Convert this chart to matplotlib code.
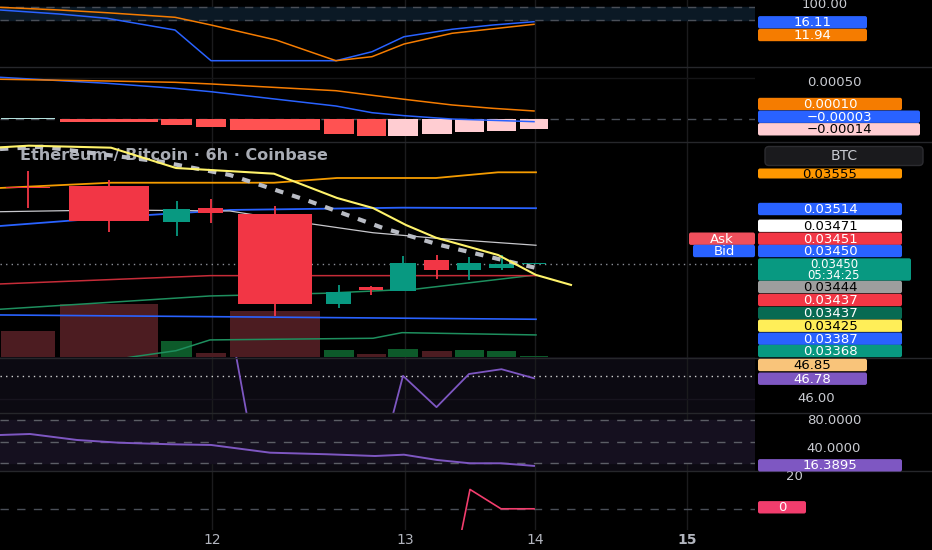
import numpy as np
import matplotlib
matplotlib.use("Agg")
import matplotlib.pyplot as plt
from matplotlib.patches import FancyBboxPatch

plt.rcParams['font.family'] = ['DejaVu Sans']

# ---- datos ----
day_ticks = [212, 405, 535, 687]
day_labels = ['12', '13', '14', '15']

# velas 6h (posicion en el eje de tiempo y ancho de la vela)
t = [28, 108.5, 176.5, 210.5, 275, 338.5, 371, 403, 436.5, 469, 501.5, 534]
span = [56, 100, 33, 32, 92, 32, 31, 32, 32, 31, 31, 30]
o = [0.03538, 0.03539, 0.03498, 0.03514, 0.03507, 0.03405, 0.03424, 0.03419, 0.03455, 0.03443, 0.03446, 0.03450]
h = [0.03556, 0.03546, 0.03522, 0.03524, 0.03517, 0.03426, 0.03425, 0.03459, 0.03461, 0.03458, 0.03461, 0.03450]
l = [0.03514, 0.03487, 0.03482, 0.03497, 0.03391, 0.03400, 0.03415, 0.03419, 0.03433, 0.03432, 0.03444, 0.03450]
c = [0.03537, 0.03499, 0.03513, 0.03509, 0.03405, 0.03418, 0.03421, 0.03452, 0.03443, 0.03451, 0.03450, 0.03450]
vol = [257, 527, 160, 40, 460, 74, 27, 84, 60, 74, 60, 7]
last_price = 0.03450

# medias / bandas del panel principal
ema_t = [0, 29, 111, 176, 274, 337, 373, 406, 436, 498, 536, 571]
ema = [0.035835, 0.035854, 0.035831, 0.035599, 0.035534, 0.035257, 0.035142, 0.034948, 0.034803, 0.034606, 0.034378, 0.034264]
dash_t = [0, 42, 161, 230, 306, 383, 440, 494, 536]
dash = [0.035816, 0.035842, 0.035671, 0.035519, 0.035234, 0.034914, 0.034720, 0.034572, 0.034458]
orange_t = [0, 111, 274, 337, 436, 498, 536]
orange = [0.035371, 0.035431, 0.035431, 0.035485, 0.035485, 0.035550, 0.035550]
white_t = [0, 111, 230, 312, 373, 436, 536]
white = [0.035100, 0.035120, 0.035108, 0.034960, 0.034860, 0.034797, 0.034717]
blue_t = [0, 69, 149, 230, 402, 536]
blue = [0.034937, 0.034997, 0.035063, 0.035120, 0.035146, 0.035140]
red_t = [0, 210, 536]
red = [0.034275, 0.034370, 0.034370]
green_t = [0, 210, 325, 417, 536]
green = [0.033986, 0.034138, 0.034169, 0.034218, 0.034378]
blue2_t = [0, 536]
blue2 = [0.033921, 0.033872]
green2_t = [100, 134, 176, 210, 373, 402, 536]
green2 = [0.033384, 0.033445, 0.033513, 0.033636, 0.033655, 0.033719, 0.033693]

# panel DMI
di_plus_t = [0, 59, 107, 175, 211, 336, 372, 404, 452, 493, 534]
di_plus = [85.1, 79.1, 72.7, 55.2, 9.4, 9.4, 22.8, 45.2, 56.3, 62.7, 67.6]
di_minus_t = [0, 59, 107, 175, 211, 276, 336, 372, 404, 452, 534]
di_minus = [89.1, 85.1, 81.0, 74.2, 62.7, 40.3, 9.4, 15.4, 34.3, 50.3, 63.7]

# panel MACD
macd_t = [0, 107, 175, 211, 336, 372, 404, 452, 534]
macd = [0.000509, 0.000436, 0.000375, 0.000334, 0.000160, 0.000079, 0.000043, 0.000002, -0.00003]
signal_t = [0, 107, 175, 211, 336, 404, 452, 493, 534]
signal = [0.000485, 0.000464, 0.000448, 0.000428, 0.000346, 0.000242, 0.000173, 0.000132, 0.000100]
hist = [0.00002, -0.00003, -0.00007, -0.00009, -0.00013, -0.00018, -0.00020, -0.00020, -0.00018, -0.00016, -0.00014, -0.00012]
hist_col = ['#b2dfdb'] + ['#ff5252'] * 6 + ['#ffcdd2'] * 5

# RSI
rsi = [55.0, 54.0, 53.5, 52.9, 39.6, 38.0, 42.25, 46.87, 45.69, 46.94, 47.12, 46.78]
rsi_ma = 46.85

# estocastico
stoch_t = [0, 30, 77, 119, 172, 211, 270, 327, 375, 404, 437, 470, 501, 534]
stoch = [59.2, 60.6, 52.3, 48.5, 46.3, 45.4, 34.7, 32.5, 30.1, 31.9, 24.6, 20.0, 20.0, 16.39]

# oscilador inferior
osc_t = [437, 470, 501, 534]
osc = [-94, 12.6, 0.0, 0.0]

W, H = 932, 550
fig = plt.figure(figsize=(9.32, 5.5), dpi=100, facecolor='black')
grid = '#1b1b1d'


def pane(top, bottom, bg='black', z=0):
    ax = fig.add_axes([0, 1 - bottom / H, 755 / W, (bottom - top) / H], zorder=z)
    ax.set_facecolor(bg)
    ax.set_xlim(0, 755)
    ax.set_xticks([])
    ax.set_yticks([])
    for s in ax.spines.values():
        s.set_visible(False)
    for x in day_ticks:
        ax.axvline(x, color=grid, lw=1, zorder=0)
    return ax


# ---- DMI ----
ax1 = pane(0, 67)
ax1.set_ylim(0, 100)
ax1.axhspan(70, 90, color='#0b1925', zorder=0.5)
for lv in (70, 90):
    ax1.axhline(lv, color='#4a4f58', lw=1, ls=(0, (6, 5)), zorder=1)
ax1.plot(di_plus_t, di_plus, color='#2962ff', lw=1.1)
ax1.plot(di_minus_t, di_minus, color='#f57c00', lw=1.1)

# ---- MACD ----
ax2 = pane(67, 142)
ax2.set_ylim(-0.000277, 0.000634)
ax2.axhline(0.0005, color='#151517', lw=1, zorder=0)
ax2.axhline(0, color='#4a4f58', lw=1, ls=(0, (6, 5)), zorder=0.5)
ax2.bar(t, hist, width=[s - 2 for s in span], color=hist_col, zorder=1)
ax2.plot(macd_t, macd, color='#2962ff', lw=1.1, zorder=2)
ax2.plot(signal_t, signal, color='#f57c00', lw=1.1, zorder=2)

# ---- precio + volumen ----
axv = pane(142, 357)
axv.set_ylim(0, 2150)
vcol = ['#4c1c21' if cc < oo else '#0d5a2a' for oo, cc in zip(o, c)]
axv.bar(t, vol, width=[s - 2 for s in span], color=vcol, zorder=1)

ax = fig.add_axes(axv.get_position(), zorder=1)
ax.set_facecolor('none')
ax.set_xlim(0, 755)
ax.set_ylim(0.033441, 0.035896)
ax.set_xticks([])
ax.set_yticks([])
for s in ax.spines.values():
    s.set_visible(False)

ax.text(20 / W, 1 - 155.7 / H, 'Ethereum / Bitcoin · 6h · Coinbase', transform=fig.transFigure,
        color='#a9acb4', fontsize=11.5, fontweight='bold', va='center', zorder=0.5)

ax.plot(green2_t, green2, color='#1e8f5e', lw=1.1, zorder=2)
ax.plot(blue2_t, blue2, color='#2962ff', lw=1.2, zorder=2)
ax.plot(green_t, green, color='#1e8f5e', lw=1.1, zorder=2)
ax.plot(red_t, red, color='#c62c38', lw=1.1, zorder=2)
ax.plot(blue_t, blue, color='#2962ff', lw=1.3, zorder=2)
ax.plot(white_t, white, color='#c8c8cc', lw=0.9, zorder=2)
ax.plot(orange_t, orange, color='#f59c00', lw=1.3, zorder=2)
ax.axhline(last_price, color='#8a8d96', lw=1, ls=(0, (1, 3)), zorder=2)

up, down = '#089981', '#f23645'
for i in range(len(t)):
    col = up if c[i] >= o[i] else down
    ax.vlines(t[i], l[i], h[i], color=col, lw=1.3, zorder=3)
    body = max(abs(c[i] - o[i]), 0.000017)
    ax.bar(t[i], body, bottom=min(o[i], c[i]), width=span[i] * 0.8, color=col, zorder=3)

ax.plot(dash_t, dash, color='#b9bcc4', lw=3, ls=(0, (2, 2.2)), zorder=4)
ax.plot(ema_t, ema, color='#fff36b', lw=1.5, zorder=4)

# ---- RSI ----
ax4 = pane(357, 413, bg='#0c0a12')
ax4.set_ylim(45.47, 47.58)
ax4.axhline(46.0, color='#17141e', lw=1, zorder=0.5)
ax4.axhline(rsi_ma, color='#d0d0d0', lw=1, ls=(0, (1, 3)), zorder=1)
ax4.plot(t, rsi, color='#7e57c2', lw=1.3, zorder=2)

# ---- estocastico ----
ax5 = pane(413, 471, bg='#0c0a12')
ax5.set_ylim(9.3, 89.7)
ax5.axhspan(20, 80, color='#15101f', zorder=0.5)
for lv in (20, 50, 80):
    ax5.axhline(lv, color='#5c5e66', lw=1, ls=(0, (6, 6)), zorder=1)
ax5.plot(stoch_t, stoch, color='#7e57c2', lw=1.4, zorder=2)

# ---- oscilador ----
ax6 = pane(471, 530)
ax6.set_ylim(-13.8, 24.6)
ax6.axhline(0, color='#4a4f58', lw=1, ls=(0, (6, 6)), zorder=1)
ax6.plot(osc_t, osc, color='#f23d6d', lw=1.2, zorder=2)

# ---- escala derecha y etiquetas ----
ov = fig.add_axes([0, 0, 1, 1], zorder=5)
ov.set_xlim(0, W)
ov.set_ylim(H, 0)
ov.axis('off')

for y in (67, 142, 357.5, 413, 471):
    ov.plot([0, W], [y, y], color='#26272b', lw=1)


def tag(y, text, fc, tc, x0=758, x1=902, hh=12.4, fs=9.5):
    ov.add_patch(FancyBboxPatch((x0, y - hh / 2), x1 - x0, hh,
                                boxstyle='round,pad=0,rounding_size=2', fc=fc, ec='none', zorder=3))
    ov.text((x0 + x1) / 2, y + 0.6, text, color=tc, ha='center', va='center', fontsize=fs, zorder=4)


def lab(x, y, text, fs=9.5, color='#c9cbd1', weight='normal', z=2):
    ov.text(x, y, text, color=color, ha='center', va='center', fontsize=fs,
            fontweight=weight, zorder=z)


lab(825, 5, '100.00')
tag(22.3, '16.11', '#2962ff', 'white', x1=867)
tag(35, '11.94', '#f57c00', 'white', x1=867)

lab(834, 82, '0.00050')
tag(104, '0.00010', '#f57c00', 'white')
tag(116.7, '\u22120.00003', '#2962ff', 'white', x1=920)
tag(129.3, '\u22120.00014', '#ffcdd2', 'black', x1=920)

ov.add_patch(FancyBboxPatch((765, 146.5), 158, 19, boxstyle='round,pad=0,rounding_size=4',
                            fc='#1a1a1d', ec='#2c2c30', lw=1))
ov.text(844, 156.5, 'BTC', color='#c9cbd1', ha='center', va='center', fontsize=10)

tag(173.5, '0.03555', '#ff9800', 'black', hh=10)
tag(209, '0.03514', '#2962ff', 'white')
tag(225.7, '0.03471', '#ffffff', 'black')
tag(238.7, '0.03451', '#f23645', 'white')
tag(238.7, 'Ask', '#ef4f5c', 'white', x0=689, x1=755)
tag(251, '0.03450', '#2962ff', 'white')
tag(251, 'Bid', '#2962ff', 'white', x0=693, x1=755)
ov.add_patch(FancyBboxPatch((758, 258.3), 153, 22.4, boxstyle='round,pad=0,rounding_size=2',
                            fc='#089981', ec='none'))
ov.text(834, 264.0, '0.03450', color='white', ha='center', va='center', fontsize=8.5)
ov.text(834, 275.6, '05:34:25', color='white', ha='center', va='center', fontsize=8.5)
tag(287, '0.03444', '#9e9e9e', 'black')
tag(300, '0.03437', '#f23645', 'white')
tag(313, '0.03437', '#076a52', 'white')
tag(325.7, '0.03425', '#ffee58', 'black')
tag(338.7, '0.03387', '#2962ff', 'white')
tag(351, '0.03368', '#089981', 'white')

tag(365, '46.85', '#f9c47a', 'black', x1=867)
tag(378.7, '46.78', '#7e57c2', 'white', x1=867)
lab(816, 399, '46.00')

lab(834, 420, '80.0000')
lab(834, 448.7, '40.0000')
tag(465.3, '16.3895', '#7e57c2', 'white')
lab(794, 477, '20')
tag(507.3, '0', '#f23d6d', 'white', x1=806)

for x, s in zip(day_ticks, day_labels):
    lab(x, 540, s, fs=10, color='#b2b5be', weight='bold' if s == '15' else 'normal')

fig.savefig('out.png', dpi=100, facecolor='black')
